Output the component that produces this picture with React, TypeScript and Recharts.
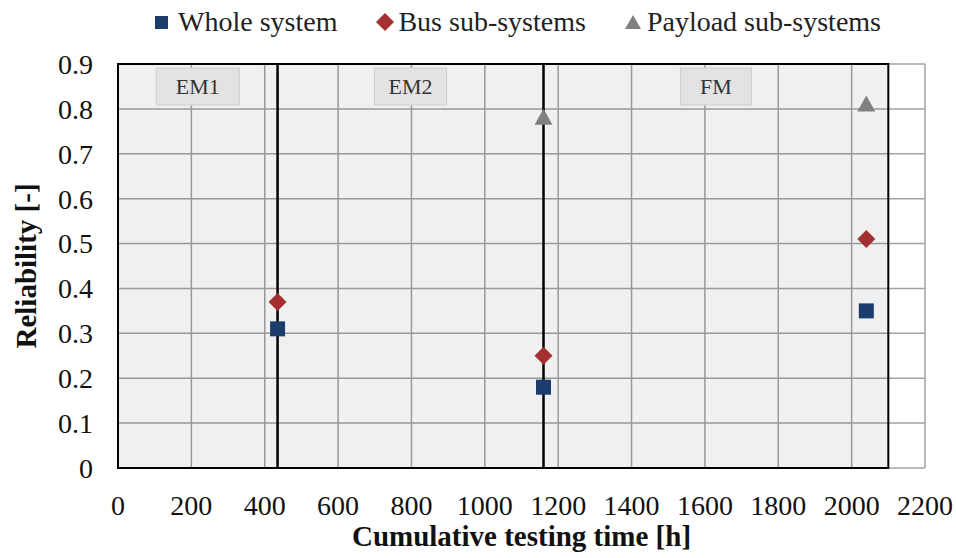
import React from "react";
import {
  ScatterChart,
  Scatter,
  XAxis,
  YAxis,
  CartesianGrid,
  ReferenceArea,
  ReferenceLine,
  Label,
} from "recharts";

const FONT = "'Liberation Serif', Tinos, 'Nimbus Roman', 'Times New Roman', 'DejaVu Serif', serif";

// axis ticks
const timeTicks = [0, 200, 400, 600, 800, 1000, 1200, 1400, 1600, 1800, 2000, 2200];
const reliabilityTicks = [0, 0.1, 0.2, 0.3, 0.4, 0.5, 0.6, 0.7, 0.8, 0.9];

// test campaigns (cumulative hours)
const phaseNames = ["EM1", "EM2", "FM"];
const phaseEnds = [435, 1160, 2100];

// reliability estimates at the end of each campaign
const wholeTimes = [435, 1160, 2040];
const wholeValues = [0.31, 0.18, 0.35];
const busTimes = [435, 1160, 2040];
const busValues = [0.37, 0.25, 0.51];
const payloadTimes = [1160, 2040];
const payloadValues = [0.78, 0.81];

const COLORS = {
  whole: "#1b3d6d",
  bus: "#a3302e",
  payload: "#808080",
};

const toPoints = (xs: number[], ys: number[]) => xs.map((x, i) => ({ x, y: ys[i] }));

const wholeData = toPoints(wholeTimes, wholeValues);
const busData = toPoints(busTimes, busValues);
const payloadData = toPoints(payloadTimes, payloadValues);

const phases = phaseNames.map((name, i) => ({
  name,
  start: i === 0 ? 0 : phaseEnds[i - 1],
  end: phaseEnds[i],
}));

const boxWidths: Record<string, number> = { EM1: 83, EM2: 72, FM: 71 };

const SquareMark = (p: any) => (
  <rect x={p.cx - 7.5} y={p.cy - 7.5} width={15} height={15} fill={COLORS.whole} />
);

const DiamondMark = (p: any) => (
  <polygon
    points={`${p.cx},${p.cy - 9} ${p.cx + 9},${p.cy} ${p.cx},${p.cy + 9} ${p.cx - 9},${p.cy}`}
    fill={COLORS.bus}
  />
);

const TriangleMark = (p: any) => (
  <polygon
    points={`${p.cx},${p.cy - 9} ${p.cx + 9},${p.cy + 7} ${p.cx - 9},${p.cy + 7}`}
    fill={COLORS.payload}
  />
);

const PhaseBox = ({ viewBox, name }: any) => {
  if (!viewBox) return null;
  const w = boxWidths[name] ?? 72;
  const top = viewBox.y + 4;
  return (
    <g>
      <rect x={viewBox.x - w / 2} y={top} width={w} height={37} fill="#e3e3e3" stroke="#cdcdcd" />
      <text x={viewBox.x} y={top + 26} textAnchor="middle" fontSize={22} fontFamily={FONT} fill="#333">
        {name}
      </text>
    </g>
  );
};

const LegendRow = () => {
  const text = { fontFamily: FONT, fontSize: 28, color: "#222", whiteSpace: "nowrap" as const };
  return (
    <div
      style={{
        position: "absolute",
        left: 155,
        top: 0,
        height: 44,
        display: "flex",
        alignItems: "center",
      }}
    >
      <svg width={13} height={13} style={{ marginRight: 10 }}>
        <rect width={13} height={13} fill={COLORS.whole} />
      </svg>
      <span style={text}>Whole system</span>
      <svg width={18} height={18} style={{ marginLeft: 39, marginRight: 4 }}>
        <polygon points="9,0 18,9 9,18 0,9" fill={COLORS.bus} />
      </svg>
      <span style={text}>Bus sub-systems</span>
      <svg width={16} height={14} style={{ marginLeft: 39, marginRight: 6 }}>
        <polygon points="8,0 16,14 0,14" fill={COLORS.payload} />
      </svg>
      <span style={text}>Payload sub-systems</span>
    </div>
  );
};

export default function App() {
  const tick = { fill: "#111", fontSize: 28, fontFamily: FONT };
  return (
    <div style={{ position: "absolute", left: 0, top: 0, width: 956, height: 558, background: "#fff" }}>
      <LegendRow />
      <ScatterChart width={956} height={558} margin={{ top: 64, right: 31, bottom: 40, left: 0 }}>
        <CartesianGrid stroke="#a2a2a2" strokeWidth={1.5} />
        <ReferenceArea
          x1={0}
          x2={phaseEnds[phaseEnds.length - 1]}
          y1={0}
          y2={0.9}
          fill="#000"
          fillOpacity={0.06}
          stroke="#000"
          strokeWidth={2}
        />
        {phaseEnds.slice(0, -1).map((t) => (
          <ReferenceLine key={t} x={t} stroke="#000" strokeWidth={2.5} />
        ))}
        {phases.map((ph) => (
          <ReferenceLine
            key={ph.name}
            x={(ph.start + ph.end) / 2}
            stroke="none"
            label={(props: any) => <PhaseBox {...props} name={ph.name} />}
          />
        ))}
        <XAxis
          type="number"
          dataKey="x"
          domain={[0, 2200]}
          ticks={timeTicks}
          interval={0}
          axisLine={false}
          tickLine={false}
          tickSize={0}
          tickMargin={27}
          height={50}
          tick={tick}
        >
          <Label
            content={({ viewBox }: any) => (
              <text
                x={viewBox.x + viewBox.width / 2}
                y={546}
                textAnchor="middle"
                fontFamily={FONT}
                fontSize={29}
                fontWeight="bold"
                fill="#111"
              >
                Cumulative testing time [h]
              </text>
            )}
          />
        </XAxis>
        <YAxis
          type="number"
          dataKey="y"
          domain={[0, 0.9]}
          ticks={reliabilityTicks}
          interval={0}
          axisLine={false}
          tickLine={false}
          tickSize={0}
          tickMargin={25}
          width={118}
          tick={tick}
          tickFormatter={(v: number) => (v === 0 ? "0" : v.toFixed(1))}
        >
          <Label
            content={({ viewBox }: any) => (
              <text
                transform={`translate(26, ${viewBox.y + viewBox.height / 2}) rotate(-90)`}
                textAnchor="middle"
                dominantBaseline="central"
                fontFamily={FONT}
                fontSize={29}
                fontWeight="bold"
                fill="#111"
              >
                Reliability [-]
              </text>
            )}
          />
        </YAxis>
        <Scatter name="Whole system" data={wholeData} shape={SquareMark} isAnimationActive={false} />
        <Scatter name="Bus sub-systems" data={busData} shape={DiamondMark} isAnimationActive={false} />
        <Scatter name="Payload sub-systems" data={payloadData} shape={TriangleMark} isAnimationActive={false} />
      </ScatterChart>
    </div>
  );
}
